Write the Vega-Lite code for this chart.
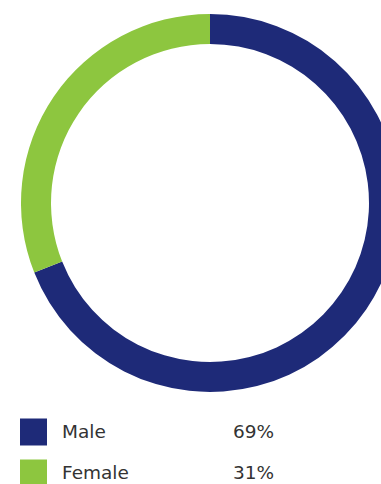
{
  "$schema": "https://vega.github.io/schema/vega-lite/v6.json",
  "padding": 0,
  "spacing": 0,
  "background": "white",
  "config": {"view": {"stroke": null}, "concat": {"spacing": 0}},
  "datasets": {
    "gender": [
      {"gender": "Male", "share": 69, "pct": "69%"},
      {"gender": "Female", "share": 31, "pct": "31%"}
    ]
  },
  "vconcat": [
    {
      "width": 420,
      "height": 406,
      "data": {"name": "gender"},
      "mark": {"type": "arc", "outerRadius": 189, "innerRadius": 159},
      "encoding": {
        "theta": {"field": "share", "type": "quantitative", "stack": true},
        "order": {"field": "share", "type": "quantitative", "sort": "descending"},
        "color": {
          "field": "gender",
          "type": "nominal",
          "scale": {"domain": ["Male", "Female"], "range": ["#1e2a78", "#8dc63f"]},
          "legend": null
        }
      }
    },
    {
      "width": 381,
      "height": 93,
      "data": {"name": "gender"},
      "encoding": {
        "y": {
          "field": "gender",
          "type": "nominal",
          "scale": {"type": "point", "domain": ["Male", "Female"], "padding": 0.634},
          "axis": null
        }
      },
      "layer": [
        {
          "mark": {"type": "square", "size": 729, "opacity": 1},
          "encoding": {
            "x": {"datum": 33.5, "type": "quantitative", "scale": {"domain": [0, 381]}, "axis": null},
            "color": {
              "field": "gender",
              "type": "nominal",
              "scale": {"domain": ["Male", "Female"], "range": ["#1e2a78", "#8dc63f"]},
              "legend": null
            }
          }
        },
        {
          "mark": {"type": "text", "align": "left", "baseline": "middle", "font": "DejaVu Sans", "fontSize": 18.5, "color": "#333333"},
          "encoding": {
            "x": {"datum": 62, "type": "quantitative", "scale": {"domain": [0, 381]}, "axis": null},
            "text": {"field": "gender"}
          }
        },
        {
          "mark": {"type": "text", "align": "right", "baseline": "middle", "font": "DejaVu Sans", "fontSize": 18.5, "color": "#333333"},
          "encoding": {
            "x": {"datum": 274, "type": "quantitative", "scale": {"domain": [0, 381]}, "axis": null},
            "text": {"field": "pct"}
          }
        }
      ]
    }
  ]
}
